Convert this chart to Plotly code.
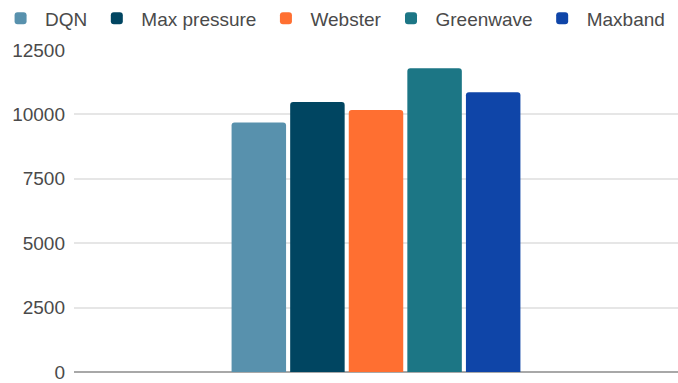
import plotly.graph_objects as go

series_names = ["DQN", "Max pressure", "Webster", "Greenwave", "Maxband"]
series_values = [9690, 10480, 10170, 11790, 10860]
series_colors = ["#5891AD", "#004561", "#FF6F31", "#1C7685", "#0F45A8"]
category = [""]
y_ticks = [0, 2500, 5000, 7500, 10000, 12500]

fig = go.Figure()
for name, val, col in zip(series_names, series_values, series_colors):
    fig.add_trace(go.Bar(
        x=category, y=[val], name=name,
        marker=dict(color=col, line=dict(width=0), cornerradius=3),
    ))

fig.update_layout(
    width=678, height=383,
    margin=dict(l=74, r=0, t=50, b=11, autoexpand=False),
    paper_bgcolor="white", plot_bgcolor="white",
    barmode="group", bargap=0.515, bargroupgap=0.07,
    font=dict(family="Liberation Sans, Arial, sans-serif", size=19, color="#4a4a4a"),
    showlegend=True,
    legend=dict(
        orientation="h", xref="paper", yref="paper",
        x=-0.129, xanchor="left", y=1.157, yanchor="top",
        font=dict(size=19, color="#4a4a4a"),
        itemwidth=39,
        traceorder="normal", itemclick=False,
    ),
    xaxis=dict(showticklabels=False, showgrid=False, zeroline=False,
               showline=False, ticks=""),
    yaxis=dict(range=[0, 12500], tickvals=y_ticks,
               ticktext=[str(v) for v in y_ticks],
               showgrid=True, gridcolor="#E6E6E6", gridwidth=1.5,
               zeroline=True, zerolinecolor="#A8A8A8", zerolinewidth=2,
               showline=False, ticks="", ticklabelstandoff=8),
)

fig.write_html("out.html")
